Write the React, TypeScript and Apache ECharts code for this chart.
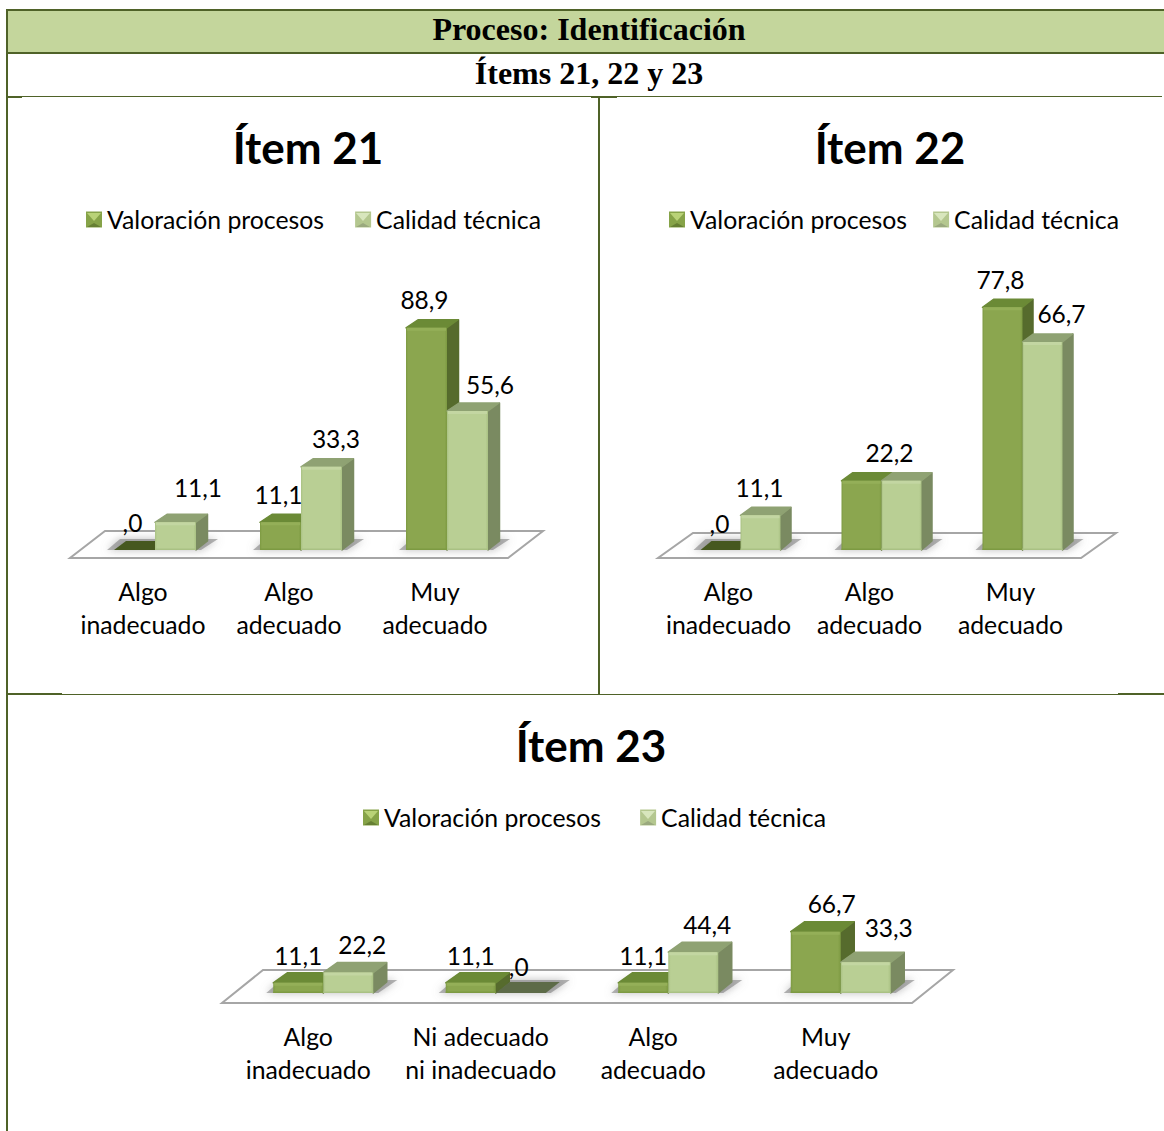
import React, { useEffect, useRef } from "react";
import * as echarts from "echarts";

const SERIES_NAMES = ["Valoración procesos", "Calidad técnica"];

const CATEGORIES_21 = ["Algo\ninadecuado", "Algo\nadecuado", "Muy\nadecuado"];
const VALORACION_21 = [0, 11.1, 88.9];
const CALIDAD_21 = [11.1, 33.3, 55.6];

const CATEGORIES_22 = ["Algo\ninadecuado", "Algo\nadecuado", "Muy\nadecuado"];
const VALORACION_22 = [0, 22.2, 77.8];
const CALIDAD_22 = [11.1, 22.2, 66.7];

const CATEGORIES_23 = ["Algo\ninadecuado", "Ni adecuado\nni inadecuado", "Algo\nadecuado", "Muy\nadecuado"];
const VALORACION_23 = [11.1, 11.1, 11.1, 66.7];
const CALIDAD_23 = [22.2, 0, 44.4, 33.3];

const SANS = "Lato";
const SERIF = "'Liberation Serif'";
const LINE = "#4f6228";

const PALETTE = [
  { edge: "#7d9a42", front: "#8ba64f", cap: "#94af58", top: "#6b8a36", side: "#566b2d", flat: "#46581f" },
  { edge: "#a9c183", front: "#b9cf94", cap: "#c3d6a2", top: "#8fa273", side: "#7a8a61", flat: "#5d6b48" },
];

// Each panel: grid box (its bottom is the front edge of the floor), oblique depth of the
// floor and of the bars, and where each value label sits relative to its bar's front top.
const PANELS = [
  {
    title: "Ítem 21", titleX: 303, titleY: 120,
    categories: CATEGORIES_21, values: [VALORACION_21, CALIDAD_21],
    left: 70, width: 438, floorY: 558, unit: 2.5,
    floorDepth: [35, 27], barInset: [12, 8], barDepth: [12, 9], barWidth: 41,
    legendLeft: 81, legendTop: 202, legendGap: 31, markers: [86, 355], markerY: 212,
    shifts: [
      [[-2, -28], [-2, -28], [-2, -28]],
      [[22.5, -35], [14.5, -28], [22.5, -27]],
    ],
  },
  {
    title: "Ítem 22", titleX: 885, titleY: 120,
    categories: CATEGORIES_22, values: [VALORACION_22, CALIDAD_22],
    left: 658, width: 423, floorY: 558, unit: 3.12,
    floorDepth: [35, 25], barInset: [12, 8], barDepth: [11, 9], barWidth: 40,
    legendLeft: 664, legendTop: 202, legendGap: 26, markers: [669, 933], markerY: 212,
    shifts: [
      [[-1, -27], null, [-2, -28]],
      [[-1, -28], [-12, -28], [19, -28]],
    ],
  },
  {
    title: "Ítem 23", titleX: 586, titleY: 718,
    categories: CATEGORIES_23, values: [VALORACION_23, CALIDAD_23],
    left: 222, width: 690, floorY: 1003, unit: 0.92,
    floorDepth: [41, 33], barInset: [15, 10], barDepth: [14, 11], barWidth: 50,
    legendLeft: 358, legendTop: 800, legendGap: 39, markers: [363, 640], markerY: 810,
    shifts: [
      [[0, -27], [0, -27], [0, -27], [16, -28]],
      [[14, -28], [-2, -27], [14, -28], [23, -35]],
    ],
  },
];

const formatValue = (v: number) => (v === 0 ? ",0" : v.toFixed(1).replace(".", ","));

// Floor parallelogram plus the soft shadow each group of bars casts on it.
function renderFloor(panel: any) {
  return (params: any, api: any) => {
    const [fdx, fdy] = panel.floorDepth;
    const [ix, iy] = panel.barInset;
    const [bdx, bdy] = panel.barDepth;
    const children: any[] = [];
    if (params.dataIndex === 0) {
      const { x, y, width } = params.coordSys;
      const bottom = y + params.coordSys.height;
      children.push({
        type: "polygon",
        shape: { points: [[x, bottom], [x + width, bottom], [x + width + fdx, bottom - fdy], [x + fdx, bottom - fdy]] },
        style: { fill: "#ffffff", stroke: "#a6a6a6", lineWidth: 2 },
      });
    }
    const c = api.coord([api.value(0), 0]);
    const cx = c[0] + ix;
    const cy = c[1] - iy;
    const w = panel.barWidth;
    children.push({
      type: "polygon",
      shape: {
        points: [
          [cx - w - 7, cy],
          [cx + w + 5, cy],
          [cx + w + bdx + 10, cy - bdy - 2],
          [cx - w + bdx - 6, cy - bdy - 2],
        ],
      },
      style: {
        fill: "rgba(120,120,120,0.55)",
        shadowBlur: 9,
        shadowColor: "rgba(120,120,120,0.9)",
      },
    });
    return { type: "group", children };
  };
}

const hGradient = (stops: [number, string][]) => ({
  type: "linear", x: 0, y: 0, x2: 1, y2: 0,
  colorStops: stops.map(([offset, color]) => ({ offset, color })),
});

// One oblique 3D bar: front face, top face, side face, and the value label above it.
function renderBar(panel: any, seriesIdx: number) {
  return (params: any, api: any) => {
    const i = api.value(0);
    const v = api.value(1);
    const [ix, iy] = panel.barInset;
    const [dx, dy] = panel.barDepth;
    const w = panel.barWidth;
    const colors = PALETTE[seriesIdx];
    const base = api.coord([i, 0]);
    const tip = api.coord([i, v]);
    const x0 = base[0] + ix + (seriesIdx === 0 ? -w : 0);
    const x1 = x0 + w;
    const yb = base[1] - iy;
    const yt = tip[1] - iy;
    const children: any[] = [];
    if (v === 0) {
      children.push({
        type: "polygon",
        shape: { points: [[x0, yb], [x1, yb], [x1 + dx, yb - dy], [x0 + dx, yb - dy]] },
        style: { fill: colors.flat },
      });
    } else {
      children.push(
        {
          type: "polygon",
          shape: { points: [[x1, yb], [x1 + dx - 0.5, yb - dy], [x1 + dx - 0.5, yt - dy + 1], [x1, yt]] },
          style: { fill: colors.side, stroke: colors.side, lineWidth: 1.5, lineJoin: "round" },
        },
        {
          type: "polygon",
          shape: { points: [[x0, yt], [x1, yt], [x1 + dx - 1, yt - dy + 1], [x0 + dx, yt - dy + 1]] },
          style: { fill: colors.top, stroke: colors.top, lineWidth: 1.5, lineJoin: "round" },
        },
        {
          type: "rect",
          shape: { x: x0, y: yt, width: w, height: yb - yt },
          style: {
            fill: hGradient([
              [0, colors.edge],
              [0.05, colors.front],
              [0.94, colors.front],
              [1, colors.edge],
            ]),
          },
        },
        {
          type: "rect",
          shape: { x: x0 + 1, y: yt, width: w - 2, height: 3 },
          style: { fill: colors.cap },
        },
        {
          type: "rect",
          shape: { x: x0, y: yb - 1.5, width: w, height: 1.5 },
          style: { fill: colors.edge },
        },
      );
    }
    const shift = panel.shifts[seriesIdx][i];
    if (shift) {
      children.push({
        type: "text",
        z2: 100,
        style: {
          text: formatValue(v),
          x: (x0 + x1) / 2 + shift[0],
          y: yt + shift[1],
          align: "center",
          verticalAlign: "middle",
          font: `24.5px ${SANS}`,
          fill: "#000000",
        },
      });
    }
    return { type: "group", children };
  };
}

// Small bevel drawn over a legend swatch so it reads as a pillow rather than a flat square.
function swatchBevel(x: number, y: number, light: string, shade: string) {
  return [
    {
      type: "polygon", silent: true, z: 10,
      shape: { points: [[x + 1, y + 1], [x + 15, y + 1], [x + 8, y + 9]] },
      style: { fill: light },
    },
    {
      type: "polygon", silent: true, z: 10,
      shape: { points: [[x + 1, y + 15], [x + 15, y + 15], [x + 8, y + 11]] },
      style: { fill: shade },
    },
  ];
}

function tableFrame() {
  const rect = (x: number, y: number, width: number, height: number, fill: string) => ({
    type: "rect", silent: true, shape: { x, y, width, height }, style: { fill },
  });
  const text = (value: string, x: number, y: number) => ({
    type: "text", silent: true,
    style: { text: value, x, y, align: "center", verticalAlign: "middle", font: `bold 32px ${SERIF}`, fill: "#000000" },
  });
  const bevels = PANELS.flatMap((p) =>
    p.markers.flatMap((mx, s) =>
      swatchBevel(mx, p.markerY, s === 0 ? "#b9d277" : "#d8e6bd", s === 0 ? "#667f33" : "#9aa97e"),
    ),
  );
  return [
    rect(7, 10, 1157, 42, "#c4d69c"),
    rect(6, 9, 1158, 2, LINE),
    rect(6, 52, 1158, 2, LINE),
    rect(6, 9, 2, 1122, LINE),
    rect(7, 96, 1155, 1, LINE),
    rect(7, 96, 15, 2, LINE),
    rect(591, 96, 26, 2, LINE),
    rect(598, 97, 2, 597, LINE),
    rect(8, 694, 1156, 1, LINE),
    rect(8, 693, 54, 2, LINE),
    rect(1118, 693, 46, 2, LINE),
    text("Proceso: Identificación", 589, 29),
    text("Ítems 21, 22 y 23", 589, 73),
    ...bevels,
  ];
}

const LEGEND_FILLS = ["#86a348", "#b4c78f"];

function buildOption() {
  const grid: any[] = [];
  const xAxis: any[] = [];
  const yAxis: any[] = [];
  const title: any[] = [];
  const legend: any[] = [];
  const series: any[] = [];

  PANELS.forEach((p, k) => {
    const height = 100 * p.unit;
    grid.push({ left: p.left, width: p.width, top: p.floorY - height, height });
    xAxis.push({
      type: "category",
      gridIndex: k,
      data: p.categories,
      axisLine: { show: false },
      axisTick: { show: false },
      splitLine: { show: false },
      axisLabel: {
        interval: 0,
        margin: 17,
        fontFamily: SANS,
        fontSize: 24.8,
        lineHeight: 33,
        color: "#000000",
      },
    });
    yAxis.push({ type: "value", gridIndex: k, min: 0, max: 100, show: false, splitLine: { show: false } });
    title.push({
      text: p.title,
      left: p.titleX,
      top: p.titleY,
      textAlign: "center",
      textStyle: { fontFamily: SANS, fontSize: 44, fontWeight: "bold", color: "#000000" },
    });
    legend.push({
      left: p.legendLeft,
      top: p.legendTop,
      itemWidth: 16,
      itemHeight: 16,
      itemGap: p.legendGap,
      selectedMode: false,
      textStyle: { fontFamily: SANS, fontSize: 24.8, color: "#000000" },
      data: SERIES_NAMES.map((name, s) => ({
        name,
        icon: "rect",
        itemStyle: { color: LEGEND_FILLS[s] },
      })),
    });
    series.push({
      type: "custom",
      name: "suelo",
      coordinateSystem: "cartesian2d",
      xAxisIndex: k,
      yAxisIndex: k,
      silent: true,
      clip: false,
      encode: { x: 0, y: 1 },
      data: p.categories.map((_: string, i: number) => [i, 0]),
      renderItem: renderFloor(p),
    });
    p.values.forEach((vals: number[], s: number) => {
      series.push({
        type: "custom",
        name: SERIES_NAMES[s],
        coordinateSystem: "cartesian2d",
        xAxisIndex: k,
        yAxisIndex: k,
        silent: true,
        clip: false,
        encode: { x: 0, y: 1 },
        data: vals.map((v, i) => [i, v]),
        renderItem: renderBar(p, s),
      });
    });
  });

  return {
    animation: false,
    backgroundColor: "#ffffff",
    title,
    legend,
    grid,
    xAxis,
    yAxis,
    series,
    graphic: tableFrame(),
  };
}

export default function App() {
  const ref = useRef<HTMLDivElement>(null);
  useEffect(() => {
    document.body.style.margin = "0";
    const chart = echarts.init(ref.current!, undefined, { renderer: "svg" });
    chart.setOption(buildOption() as any);
    return () => chart.dispose();
  }, []);
  return <div ref={ref} style={{ width: 1164, height: 1131, overflow: "hidden" }} />;
}
